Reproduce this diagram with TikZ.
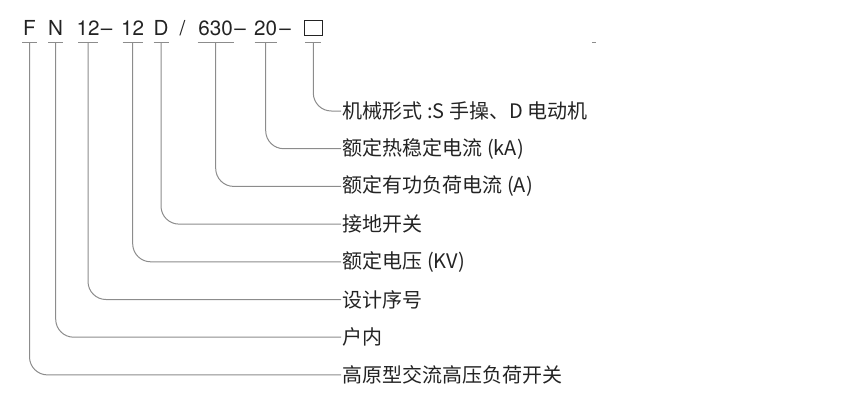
\documentclass[tikz,border=0pt]{standalone}
\usepackage{fontspec}
\setmainfont{Noto Sans CJK SC}
\newfontfamily\heros{TeX Gyre Heros}
\usepackage{xcolor}
\definecolor{leadgray}{RGB}{140,140,140}
\definecolor{inkgray}{RGB}{35,35,35}
\tikzset{
  code/.style={anchor=base, inner sep=0pt, text=inkgray, font=\heros\fontsize{15.5}{18}\selectfont},
  desc/.style={anchor=west, inner sep=1pt, text=inkgray, font=\fontsize{15}{18}\selectfont},
  lead/.style={draw=leadgray, line width=0.75pt, rounded corners=13.5pt},
}
\begin{document}
\begin{tikzpicture}[x=0.75pt,y=0.75pt,yscale=-1,xscale=1]
\useasboundingbox (0,0) rectangle (849,400);

% Text Node
\node [code] (typeF) at (29.5,35) {F};
\node [code] (siteN) at (55.7,35) {N};
\node [code] (serial) at (88,35) {12};
\node [code] (dashA) at (106.7,35) {–};
\node [code] (volt) at (132.7,35) {12};
\node [code] (earthD) at (161,35) {D};
\node [code] (slash) at (182.5,35) {/};
\node [code] (load) at (215.7,35) {630};
\node [code] (dashB) at (240,35) {–};
\node [code] (therm) at (265.7,35) {20};
\node [code] (dashC) at (285,35) {–};
%Shape: Square
\node [draw=inkgray, line width=0.6pt, inner sep=0pt, minimum width=13.3pt, minimum height=10.7pt] (mech) at (313.3,27.8) {};

% Text Node
\node [desc] (dMech) at (341,111) {机械形式 :S 手操、D 电动机};
\node [desc] (dTherm) at (341,148.7) {额定热稳定电流 (kA)};
\node [desc] (dLoad) at (341,186.4) {额定有功负荷电流 (A)};
\node [desc] (dEarth) at (341,224.1) {接地开关};
\node [desc] (dVolt) at (341,261.8) {额定电压 (KV)};
\node [desc] (dSerial) at (341,299.5) {设计序号};
\node [desc] (dSite) at (341,337.2) {户内};
\node [desc] (dType) at (341,374.9) {高原型交流高压负荷开关};

%Straight Lines
\foreach \c/\d/\w in {typeF/dType/7.5, siteN/dSite/7.5, serial/dSerial/10, volt/dVolt/10,
                      earthD/dEarth/7.5, load/dLoad/18, therm/dTherm/11, mech/dMech/8}{
  \draw [draw=leadgray, line width=0.75pt] (\c |- 0,42) ++(-\w,0) -- ++(2*\w,0);
  \draw [lead] (\c |- 0,42) |- (\d.west);
}

\draw [draw=leadgray, line width=0.75pt] (592,42) -- (596,42);
\end{tikzpicture}
\end{document}
